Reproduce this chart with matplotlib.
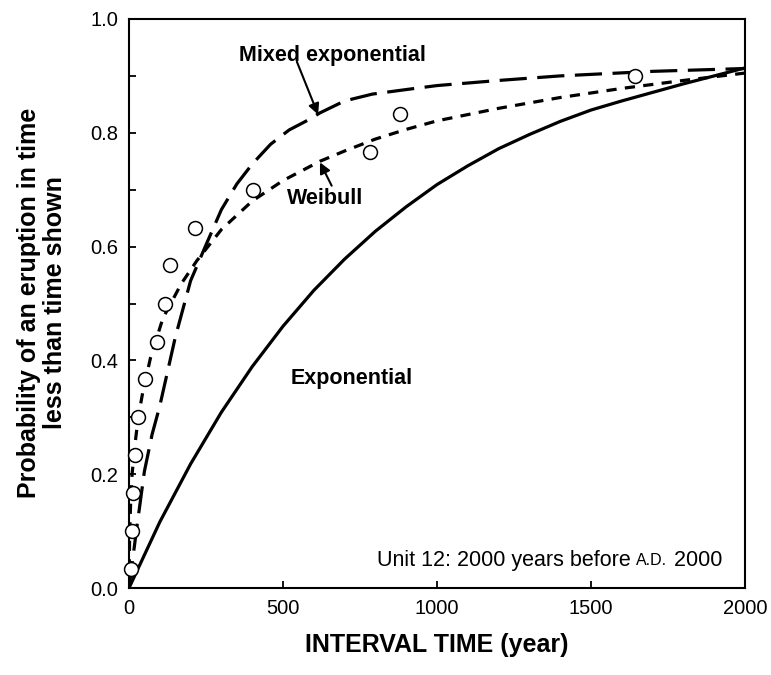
import matplotlib
matplotlib.use("Agg")
import matplotlib.pyplot as plt
from matplotlib.ticker import MultipleLocator, FormatStrFormatter

plt.rcParams["font.family"] = ["Liberation Sans", "DejaVu Sans"]

# observed cumulative probabilities (open circles)
obs_years = [6, 10, 13, 19, 29, 52, 91, 117, 133, 214, 403, 782, 880, 1643]
obs_prob = [0.033, 0.1, 0.167, 0.233, 0.3, 0.367, 0.433, 0.5, 0.567,
            0.633, 0.7, 0.767, 0.833, 0.9]

# fitted curves
exp_years = [0, 100, 200, 300, 400, 500, 600, 700, 800, 900, 1000, 1100,
             1200, 1300, 1400, 1500, 1600, 1700, 1800, 1900, 2000]
exp_prob = [0, 0.116, 0.218, 0.309, 0.389, 0.46, 0.523, 0.578, 0.627, 0.67,
            0.709, 0.742, 0.772, 0.797, 0.82, 0.84, 0.856, 0.871, 0.886,
            0.9, 0.914]

weib_years = [0, 2, 5, 10, 20, 30, 45, 70, 110, 170, 220, 300, 400, 500,
              620, 700, 800, 900, 1000, 1200, 1400, 1600, 1800, 2000]
weib_prob = [0, 0.09, 0.145, 0.2, 0.255, 0.3, 0.345, 0.405, 0.474, 0.535,
             0.575, 0.63, 0.68, 0.716, 0.75, 0.768, 0.789, 0.806, 0.821,
             0.843, 0.862, 0.878, 0.892, 0.905]

mixed_years = [0, 25, 50, 75, 100, 150, 200, 250, 300, 350, 400, 460, 520,
               580, 620, 700, 790, 900, 1000, 1200, 1400, 1700, 2000]
mixed_prob = [0, 0.105, 0.205, 0.27, 0.32, 0.44, 0.54, 0.603, 0.665, 0.71,
              0.745, 0.78, 0.805, 0.822, 0.835, 0.856, 0.868, 0.876, 0.883,
              0.892, 0.9, 0.908, 0.913]

fig = plt.figure(figsize=(7.71, 6.75), dpi=100)
ax = fig.add_axes([129 / 771, 87 / 675, 616 / 771, 569 / 675])

ax.plot(exp_years, exp_prob, color="black", lw=2.3, solid_capstyle="butt")
ax.plot(weib_years, weib_prob, color="black", lw=2.3, dashes=(3.2, 2.6))
ax.plot(mixed_years, mixed_prob, color="black", lw=2.3, dashes=(8.5, 3.3))
ax.plot(obs_years, obs_prob, "o", ms=10, mfc="white", mec="black",
        mew=1.1, clip_on=False, zorder=5)

ax.set_xlim(0, 2000)
ax.set_ylim(0, 1.0)
ax.xaxis.set_major_locator(MultipleLocator(500))
ax.yaxis.set_major_locator(MultipleLocator(0.2))
ax.yaxis.set_minor_locator(MultipleLocator(0.1))
ax.yaxis.set_major_formatter(FormatStrFormatter("%.1f"))
ax.tick_params(axis="both", which="both", direction="in", labelsize=14.5,
               width=1.3, length=5, pad=8)
for sp in ax.spines.values():
    sp.set_linewidth(1.5)

ax.set_xlabel("INTERVAL TIME (year)", fontsize=18, fontweight="bold",
              labelpad=11)
fig.text(42 / 771, 1 - 303 / 675,
         "Probability of an eruption in time\nless than time shown",
         rotation=90, ha="center", va="center", fontsize=18,
         fontweight="bold", linespacing=1.1)

# curve labels
ax.text(659, 0.935, "Mixed exponential", ha="center", va="center",
        fontsize=15.5, fontweight="bold")
ax.annotate("", xy=(614, 0.832), xytext=(545, 0.925),
            arrowprops=dict(arrowstyle="-|>", color="black", lw=1.5,
                            mutation_scale=16, shrinkA=0, shrinkB=0))
ax.text(636, 0.684, "Weibull", ha="center", va="center",
        fontsize=15.5, fontweight="bold")
ax.annotate("", xy=(620, 0.748), xytext=(658, 0.707),
            arrowprops=dict(arrowstyle="-|>", color="black", lw=1.5,
                            mutation_scale=16, shrinkA=0, shrinkB=0))
ax.text(724, 0.368, "Exponential", ha="center", va="center",
        fontsize=15.5, fontweight="bold")

# unit note, with small-caps style A.D.
t_end = ax.text(1925, 0.03, "\u00a02000", ha="right", va="bottom",
                fontsize=15.5)
t_ad = ax.annotate("A.D.", xy=(0, 0), xycoords=t_end, xytext=(0, 2.2),
                   textcoords="offset points", ha="right", va="bottom",
                   fontsize=11.5)
ax.annotate("Unit 12: 2000 years before\u00a0", xy=(0, 0), xycoords=t_ad,
            xytext=(0, -2.2), textcoords="offset points",
            ha="right", va="bottom", fontsize=15.5)

fig.savefig("out.png", dpi=100)
